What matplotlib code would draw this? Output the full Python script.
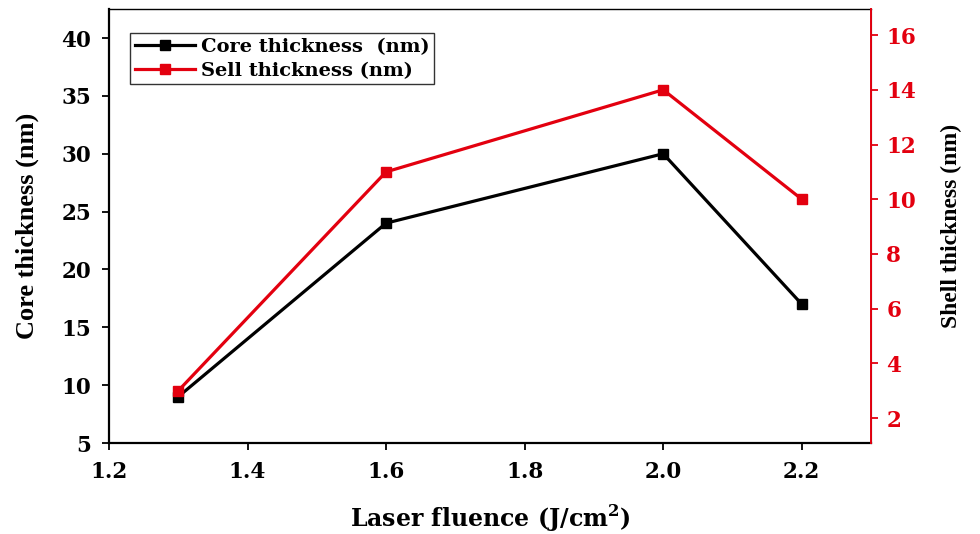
import matplotlib
matplotlib.use('Agg')
import matplotlib.pyplot as plt

plt.rcParams['font.family'] = ['DejaVu Serif']
plt.rcParams['font.weight'] = 'bold'
plt.rcParams['mathtext.fontset'] = 'custom'
plt.rcParams['mathtext.rm'] = 'DejaVu Serif:bold'
plt.rcParams['mathtext.bf'] = 'DejaVu Serif:bold'

# laser fluence (J/cm^2) and measured thicknesses
fluence = [1.3, 1.6, 2.0, 2.2]
core_nm = [9, 24, 30, 17]
shell_nm = [3, 11, 14, 10]

x_ticks = [1.2, 1.4, 1.6, 1.8, 2.0, 2.2]
core_ticks = [5, 10, 15, 20, 25, 30, 35, 40]
shell_ticks = [2, 4, 6, 8, 10, 12, 14, 16]

red = '#e3000f'

fig = plt.figure(figsize=(9.8, 5.34), dpi=100)
ax = fig.add_axes([0.1112, 0.1704, 0.7776, 0.8126])
ax2 = ax.twinx()

l1, = ax.plot(fluence, core_nm, color='black', lw=2.3, marker='s', ms=7,
              label='Core thickness  (nm)')
l2, = ax2.plot(fluence, shell_nm, color=red, lw=2.3, marker='s', ms=7,
               label='Sell thickness (nm)')

ax.set_xlim(1.2, 2.3)
ax.set_ylim(5, 42.5)
ax2.set_ylim(1.09, 16.95)
ax.set_xticks(x_ticks)
ax.set_xticklabels([f'{v:.1f}' for v in x_ticks])
ax.set_yticks(core_ticks)
ax2.set_yticks(shell_ticks)

ax.tick_params(axis='both', direction='out', length=5, width=1.3, labelsize=15.5)
ax.tick_params(axis='y', pad=8)
ax.tick_params(axis='x', pad=8)
ax2.tick_params(axis='y', direction='out', length=5, width=1.3, labelsize=15.5,
                colors=red, pad=6)
for s in ['left', 'bottom']:
    ax.spines[s].set_linewidth(1.6)
ax.spines['top'].set_linewidth(1.0)
ax2.spines['right'].set_color(red)
ax2.spines['right'].set_linewidth(1.4)
ax2.spines['left'].set_visible(False)
ax2.spines['top'].set_visible(False)
ax2.spines['bottom'].set_visible(False)

ax.set_xlabel('Laser fluence (J/cm$^{2}$)', fontsize=17, fontweight='bold',
              labelpad=14)
ax.set_ylabel('Core thickness (nm)', fontsize=19, fontweight='bold',
              family='Liberation Serif', labelpad=16)
ax2.set_ylabel('Shell thickness (nm)', fontsize=17, fontweight='bold',
               family='Liberation Serif', labelpad=18)

leg = ax.legend(handles=[l1, l2], loc='upper left',
                bbox_to_anchor=(0.0276, 0.945), fontsize=14, frameon=True,
                fancybox=False, edgecolor='black', handlelength=3.1,
                borderpad=0.25, labelspacing=0.3, handletextpad=0.3,
                borderaxespad=0)
leg.get_frame().set_linewidth(1.0)

fig.savefig('out.png', dpi=100)
